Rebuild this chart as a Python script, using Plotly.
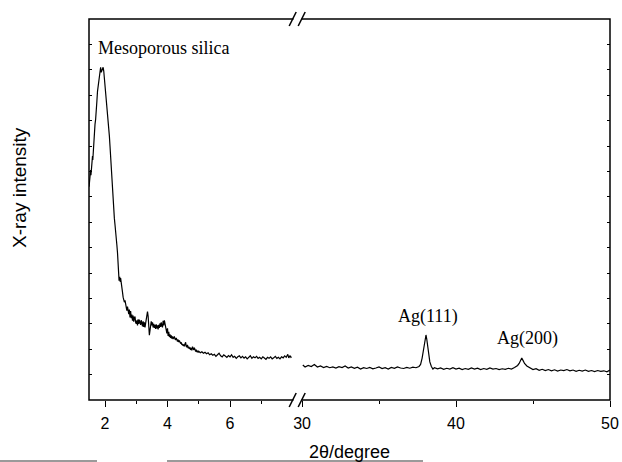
import plotly.graph_objects as go

# ---- data ----
left_2theta = [1.49,1.51,1.52,1.54,1.55,1.57,1.58,1.60,1.61,1.63,1.64,1.66,1.68,1.70,1.72,1.74,1.76,1.78,1.80,1.82,
               1.84,1.86,1.88,1.90,1.92,1.94,1.96,1.98,2.00,2.02,2.04,2.06,2.08,2.10,2.12,2.14,2.16,2.18,2.20,2.22,
               2.24,2.26,2.28,2.30,2.32,2.34,2.36,2.38,2.40,2.42,2.44,2.45,2.47,2.49,2.50,2.52,2.54,2.56,2.58,2.60,
               2.62,2.64,2.66,2.68,2.70,2.72,2.74,2.76,2.78,2.80,2.82,2.84,2.86,2.88,2.90,2.92,2.94,2.96,2.98,3.00,
               3.02,3.04,3.06,3.08,3.10,3.12,3.14,3.16,3.18,3.20,3.22,3.24,3.26,3.28,3.30,3.32,3.34,3.36,3.38,3.40,
               3.42,3.44,3.46,3.48,3.50,3.52,3.54,3.56,3.58,3.60,3.62,3.64,3.66,3.68,3.70,3.72,3.74,3.76,3.78,3.80,
               3.82,3.84,3.86,3.88,3.90,3.92,3.94,3.96,3.98,4.00,4.02,4.04,4.06,4.08,4.10,4.12,4.14,4.16,4.18,4.20,
               4.22,4.24,4.26,4.28,4.30,4.32,4.34,4.36,4.38,4.40,4.42,4.44,4.46,4.48,4.50,4.52,4.54,4.56,4.58,4.60,
               4.62,4.64,4.66,4.68,4.70,4.72,4.74,4.76,4.78,4.80,4.82,4.84,4.86,4.88,4.90,4.92,4.94,4.96,4.98,5.00,
               5.05,5.10,5.15,5.20,5.25,5.30,5.35,5.40,5.45,5.50,5.55,5.60,5.65,5.70,5.75,5.80,5.85,5.90,5.95,6.00,
               6.05,6.10,6.15,6.20,6.25,6.30,6.35,6.40,6.45,6.50,6.55,6.60,6.65,6.70,6.75,6.80,6.85,6.90,6.95,7.00,
               7.05,7.10,7.15,7.20,7.25,7.30,7.35,7.40,7.45,7.50,7.55,7.60,7.65,7.70,7.75,7.80,7.85,7.88,7.92,7.95,7.97]
left_intensity = [8.40,8.75,8.55,9.05,8.85,9.30,9.15,9.60,9.45,10.05,10.30,10.55,10.85,11.05,11.30,11.75,12.15,12.35,12.60,12.85,
                  13.05,13.10,12.90,12.95,13.05,13.10,12.95,12.70,12.35,12.10,11.85,11.60,11.35,11.15,10.80,10.40,10.00,9.55,9.05,8.55,
                  8.05,7.65,7.35,7.15,6.90,6.70,6.45,6.10,5.80,5.45,5.00,4.70,4.85,4.65,4.80,4.50,4.35,4.25,4.05,3.95,
                  3.85,3.92,3.70,3.60,3.52,3.68,3.42,3.38,3.56,3.25,3.50,3.22,3.36,3.12,3.32,3.08,3.24,3.28,3.06,3.00,
                  3.14,2.94,3.18,3.00,3.16,3.02,2.96,3.14,2.98,2.90,3.10,2.88,3.06,2.86,3.02,3.16,3.30,3.48,3.30,2.85,
                  2.55,2.74,2.98,3.10,2.94,3.06,2.86,3.00,2.84,2.96,2.80,2.98,2.82,2.94,2.78,2.96,2.84,3.02,2.88,3.06,
                  2.92,2.86,3.12,2.94,3.14,2.96,2.82,2.70,2.62,2.82,2.52,2.68,2.48,2.58,2.44,2.54,2.42,2.50,2.40,2.46,
                  2.50,2.40,2.38,2.44,2.34,2.30,2.38,2.28,2.34,2.24,2.22,2.27,2.17,2.21,2.13,2.19,2.11,2.21,2.27,2.11,
                  2.08,2.17,2.04,2.10,2.01,2.07,1.97,2.05,1.95,2.10,2.01,1.97,2.06,1.94,1.91,1.98,1.89,1.94,1.87,1.92,
                  1.86,1.90,1.84,1.88,1.82,1.86,1.78,1.82,1.76,1.80,1.72,1.78,1.84,1.74,1.70,1.78,1.72,1.68,1.75,1.70,
                  1.78,1.68,1.72,1.64,1.70,1.74,1.66,1.72,1.65,1.70,1.62,1.68,1.74,1.64,1.70,1.66,1.72,1.64,1.68,1.62,
                  1.70,1.65,1.60,1.68,1.64,1.70,1.62,1.66,1.72,1.64,1.68,1.62,1.70,1.66,1.74,1.68,1.80,1.66,1.74,1.68,1.70]

right_2theta = [30.05,30.2,30.4,30.6,30.8,31.0,31.2,31.4,31.6,31.8,32.0,32.2,32.4,32.6,32.8,33.0,33.2,33.4,33.6,33.8,
                34.0,34.2,34.4,34.6,34.8,35.0,35.2,35.4,35.6,35.8,36.0,36.2,36.4,36.6,36.8,37.0,37.2,37.4,37.6,37.7,
                37.8,37.9,38.0,38.05,38.1,38.2,38.3,38.4,38.5,38.6,38.8,39.0,39.2,39.4,39.6,39.8,40.0,40.2,40.4,40.6,
                40.8,41.0,41.2,41.4,41.6,41.8,42.0,42.2,42.4,42.6,42.8,43.0,43.2,43.4,43.6,43.8,44.0,44.1,44.2,44.27,
                44.35,44.45,44.6,44.8,45.0,45.2,45.4,45.6,45.8,46.0,46.2,46.4,46.6,46.8,47.0,47.2,47.4,47.6,47.8,48.0,
                48.2,48.4,48.6,48.8,49.0,49.2,49.4,49.6,49.8,50.0]
right_intensity = [1.38,1.30,1.36,1.32,1.40,1.30,1.34,1.28,1.32,1.27,1.30,1.26,1.31,1.28,1.34,1.26,1.30,1.25,1.29,1.22,
                   1.27,1.24,1.28,1.23,1.26,1.30,1.24,1.27,1.22,1.28,1.25,1.30,1.26,1.24,1.28,1.25,1.29,1.27,1.32,1.40,
                   1.65,2.10,2.50,2.56,2.40,1.95,1.50,1.32,1.22,1.27,1.23,1.26,1.21,1.25,1.22,1.27,1.22,1.25,1.20,1.24,
                   1.21,1.26,1.22,1.25,1.20,1.24,1.21,1.26,1.22,1.24,1.20,1.23,1.21,1.25,1.22,1.28,1.36,1.44,1.54,1.65,
                   1.56,1.44,1.34,1.26,1.20,1.23,1.17,1.21,1.16,1.20,1.15,1.19,1.14,1.18,1.16,1.20,1.15,1.18,1.13,1.17,
                   1.14,1.18,1.13,1.16,1.12,1.16,1.13,1.15,1.11,1.18]

left_ticks = [2, 4, 6]
right_ticks = [30, 40, 50]
peak_labels = ["Ag(111)", "Ag(200)"]
peak_pos = [38.18, 44.61]
peak_lab_y = [3.27, 2.44]

SPLIT = 0.40
LEFT_RANGE = [1.488, 8.157]
RIGHT_RANGE = [29.70, 50.0]
Y_RANGE = [0, 15]

fig = go.Figure()
fig.add_trace(go.Scatter(x=left_2theta, y=left_intensity, mode="lines",
                         line=dict(color="black", width=1.2), xaxis="x", yaxis="y",
                         showlegend=False, hoverinfo="skip"))
fig.add_trace(go.Scatter(x=right_2theta, y=right_intensity, mode="lines",
                         line=dict(color="black", width=1.2), xaxis="x2", yaxis="y2",
                         showlegend=False, hoverinfo="skip"))

tickfont = dict(family="Liberation Sans, Arial", size=16, color="black")
common_x = dict(showgrid=False, zeroline=False, showline=False, ticks="outside",
                tickcolor="black", tickwidth=1, ticklen=6, tickfont=tickfont,
                automargin=False, ticklabelstandoff=3)

fig.update_layout(
    width=622, height=462, autosize=False,
    margin=dict(l=89, r=12, t=19, b=62, pad=0, autoexpand=False),
    plot_bgcolor="white", paper_bgcolor="white",
    showlegend=False,
    xaxis=dict(domain=[0, SPLIT], range=LEFT_RANGE, anchor="y",
               tickmode="array", tickvals=left_ticks,
               minor=dict(tickvals=[3, 5, 7], ticks="outside", ticklen=3, tickcolor="black"),
               **common_x),
    xaxis2=dict(domain=[SPLIT, 1], range=RIGHT_RANGE, anchor="y",
                tickmode="array", tickvals=right_ticks,
                minor=dict(tickvals=[35, 45], ticks="outside", ticklen=3, tickcolor="black"),
                **common_x),
    xaxis3=dict(overlaying="x", side="top", anchor="y", range=LEFT_RANGE,
                tickmode="linear", tick0=2, dtick=1, ticks="inside", ticklen=3,
                tickcolor="black", showticklabels=False, showgrid=False, zeroline=False),
    xaxis4=dict(overlaying="x2", side="top", anchor="y", range=RIGHT_RANGE,
                tickmode="linear", tick0=30, dtick=5, ticks="inside", ticklen=3,
                tickcolor="black", showticklabels=False, showgrid=False, zeroline=False),
    yaxis=dict(range=Y_RANGE, anchor="x", showticklabels=False, showgrid=False,
               zeroline=False, ticks="inside", ticklen=3, tickcolor="black",
               tickmode="linear", tick0=0, dtick=1, automargin=False),
    yaxis2=dict(range=Y_RANGE, overlaying="y", side="right", anchor="x2",
                showticklabels=False, showgrid=False, zeroline=False,
                ticks="inside", ticklen=3, tickcolor="black",
                tickmode="linear", tick0=0, dtick=1, automargin=False),
)

# frame
fig.add_shape(type="rect", xref="paper", yref="paper", x0=0, x1=1, y0=0, y1=1,
              line=dict(color="black", width=1.5), fillcolor="rgba(0,0,0,0)")

# axis-break marks "//" at top and bottom
def px2fx(px):
    return (px - 89) / 521.0

def py2fy(py):
    return (400 - py) / 381.0

for yc in (19, 400):
    fig.add_shape(type="line", xref="paper", yref="paper",
                  x0=px2fx(293.5), x1=px2fx(301.5), y0=py2fy(yc), y1=py2fy(yc),
                  line=dict(color="white", width=4))
    for xc in (292.7, 301.7):
        fig.add_shape(type="line", xref="paper", yref="paper",
                      x0=px2fx(xc - 3.5), x1=px2fx(xc + 3.5),
                      y0=py2fy(yc + 7), y1=py2fy(yc - 7),
                      line=dict(color="black", width=1.5))

serif = dict(family="Liberation Serif, Times New Roman", size=18, color="black")
fig.add_annotation(x=1.71, y=13.86, xref="x", yref="y", text="Mesoporous silica",
                   showarrow=False, xanchor="left", yanchor="middle", font=serif)
for lab, xp, yp in zip(peak_labels, peak_pos, peak_lab_y):
    fig.add_annotation(x=xp, y=yp, xref="x2", yref="y2", text=lab, showarrow=False,
                       xanchor="center", yanchor="middle", font=serif)

# axis titles
fig.add_annotation(x=0.5, y=py2fy(452), xref="paper", yref="paper", text="2θ/degree",
                   showarrow=False, xanchor="center", yanchor="middle",
                   font=dict(family="Liberation Sans, Arial", size=18, color="black"))
fig.add_annotation(x=px2fx(20), y=py2fy(188), xref="paper", yref="paper", text="X-ray intensity",
                   showarrow=False, xanchor="center", yanchor="middle", textangle=-90,
                   font=dict(family="Liberation Sans, Arial", size=19, color="black"))

# faint scan artefact lines at the bottom edge
for a, b in ((0, 97), (167, 423)):
    fig.add_shape(type="line", xref="paper", yref="paper",
                  x0=px2fx(a), x1=px2fx(b), y0=py2fy(461), y1=py2fy(461),
                  line=dict(color="#9a9a9a", width=2))

fig.write_html("out.html",
               config={"responsive": False, "displayModeBar": False},
               default_width="622px", default_height="462px",
               post_script="document.body.style.margin='0';document.body.style.padding='0';"
                           "document.documentElement.style.overflow='hidden';")
